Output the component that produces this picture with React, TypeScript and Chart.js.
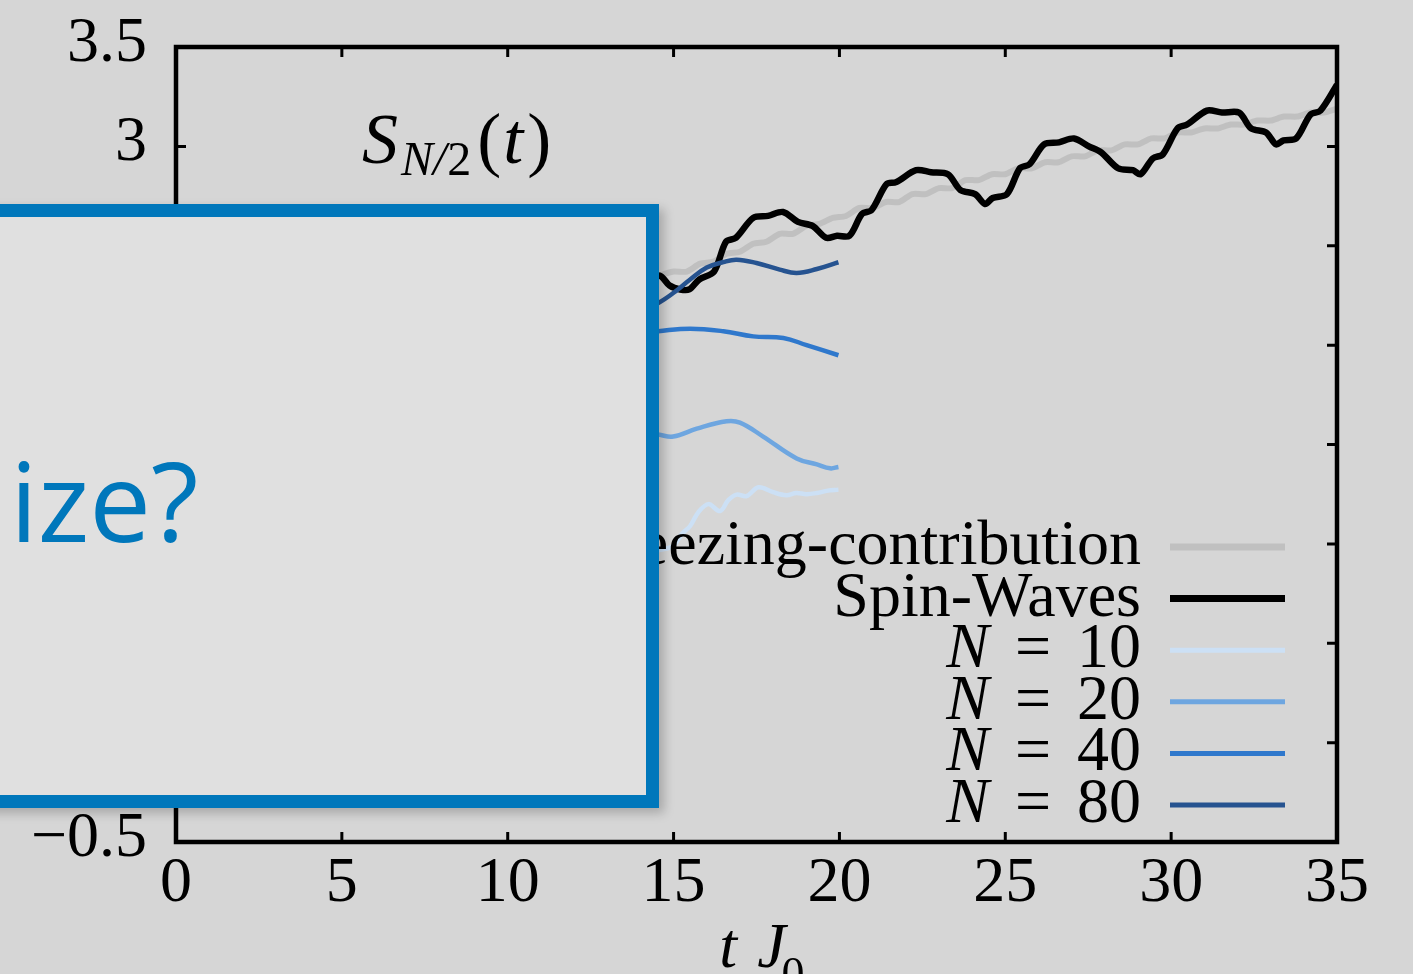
import React, { useEffect, useRef } from "react";
import { Chart, registerables } from "chart.js";

Chart.register(...registerables);

// ---------- data ----------
const squeezeT = [0, 1, 2, 3, 4, 5, 6, 7, 8, 9, 10, 11, 12, 13, 14, 14.6, 15.0, 15.4, 15.8, 16.2, 16.6, 17.0, 17.4, 17.8, 18.2, 18.6, 19.0, 19.4, 19.8, 20.2, 20.6, 21.0, 21.4, 21.8, 22.2, 22.6, 23.0, 23.4, 23.8, 24.2, 24.6, 25.0, 25.4, 25.8, 26.2, 26.6, 27.0, 27.4, 27.8, 28.2, 28.6, 29.0, 29.4, 29.8, 30.2, 30.6, 31.0, 31.4, 31.8, 32.2, 32.6, 33.0, 33.4, 33.8, 34.2, 34.6, 35.0];
const squeezeS = [0, 0.5, 0.9, 1.15, 1.32, 1.48, 1.6, 1.72, 1.82, 1.92, 2.01, 2.1, 2.18, 2.25, 2.31, 2.35, 2.37, 2.37, 2.41, 2.42, 2.46, 2.47, 2.51, 2.52, 2.56, 2.56, 2.6, 2.61, 2.64, 2.65, 2.69, 2.69, 2.72, 2.72, 2.76, 2.76, 2.79, 2.79, 2.83, 2.83, 2.86, 2.86, 2.89, 2.89, 2.92, 2.92, 2.95, 2.95, 2.98, 2.98, 3.01, 3.01, 3.04, 3.04, 3.07, 3.07, 3.09, 3.09, 3.11, 3.11, 3.13, 3.13, 3.15, 3.15, 3.17, 3.17, 3.19];

const spinT = [0, 1, 2, 3, 4, 5, 6, 7, 8, 9, 10, 11, 12, 13, 14, 14.58, 14.88, 15.2, 15.47, 15.77, 16.22, 16.58, 16.88, 17.4, 17.85, 18.3, 18.75, 19.19, 19.6, 19.93, 20.3, 20.68, 20.97, 21.42, 21.71, 22.31, 22.76, 23.27, 23.65, 24.09, 24.39, 24.62, 25.05, 25.44, 25.73, 26.17, 26.62, 27.07, 27.52, 27.89, 28.4, 28.85, 29.08, 29.45, 29.75, 30.19, 30.48, 31.08, 31.53, 32.05, 32.41, 32.86, 33.16, 33.39, 33.77, 34.2, 34.5, 35.0];
const spinS = [0, 0.55, 0.95, 1.2, 1.38, 1.52, 1.65, 1.77, 1.88, 1.98, 2.07, 2.15, 2.22, 2.29, 2.34, 2.35, 2.3, 2.28, 2.28, 2.33, 2.37, 2.52, 2.54, 2.64, 2.65, 2.67, 2.62, 2.6, 2.54, 2.55, 2.55, 2.66, 2.68, 2.81, 2.82, 2.88, 2.87, 2.86, 2.78, 2.76, 2.71, 2.74, 2.76, 2.89, 2.91, 3.01, 3.02, 3.04, 3.0, 2.97, 2.89, 2.88, 2.86, 2.94, 2.96, 3.09, 3.11, 3.18, 3.17, 3.17, 3.09, 3.07, 3.01, 3.03, 3.04, 3.16, 3.18, 3.31];

const n10T = [0, 2, 4, 6, 8, 10, 12, 14, 14.6, 14.99, 15.25, 15.5, 15.75, 16.05, 16.4, 16.65, 16.9, 17.2, 17.56, 18.0, 18.4, 18.7, 19.0, 19.32, 19.65, 19.97];
const n10S = [0, 0.7, 0.9, 0.95, 1.0, 0.96, 0.92, 0.95, 0.97, 0.99, 1.05, 1.09, 1.16, 1.2, 1.165, 1.22, 1.248, 1.24, 1.285, 1.26, 1.245, 1.256, 1.25, 1.256, 1.268, 1.273];

const n20T = [0, 2, 4, 6, 8, 10, 12, 14, 14.54, 14.99, 15.7, 16.6, 17.0, 17.7, 18.71, 19.32, 19.72, 19.97];
const n20S = [0, 0.85, 1.2, 1.4, 1.5, 1.55, 1.6, 1.56, 1.55, 1.54, 1.58, 1.617, 1.61, 1.54, 1.43, 1.4, 1.38, 1.387];

const n40T = [0, 2, 4, 6, 8, 10, 12, 14, 14.54, 15.5, 16.5, 17.4, 18.31, 19.01, 19.97];
const n40S = [0, 0.9, 1.3, 1.55, 1.75, 1.9, 2.0, 2.06, 2.07, 2.083, 2.07, 2.044, 2.036, 2.0, 1.949];

const n80T = [0, 2, 4, 6, 8, 10, 12, 14, 14.54, 14.99, 15.5, 16.0, 16.5, 16.9, 17.5, 18.2, 18.71, 19.32, 19.97];
const n80S = [0, 0.9, 1.3, 1.6, 1.8, 1.95, 2.05, 2.17, 2.212, 2.262, 2.33, 2.39, 2.418, 2.43, 2.413, 2.38, 2.363, 2.383, 2.417];

const seriesLabels = ["Squeezing-contribution", "Spin-Waves", "N = 10", "N = 20", "N = 40", "N = 80"];
const seriesColors = ["#c0c0c0", "#000000", "#cce0f5", "#6ea6e0", "#2f78cc", "#265390"];

const xTicks = [0, 5, 10, 15, 20, 25, 30, 35];
const yTicks = [-0.5, 0, 0.5, 1, 1.5, 2, 2.5, 3, 3.5];

const SERIF = '"Liberation Serif", "Times New Roman", serif';

function zip(t: number[], s: number[]) {
  return t.map((x, i) => ({ x, y: s[i] }));
}

function fmtY(v: number) {
  const r = Math.round(v * 10) / 10;
  return r < 0 ? "\u2212" + String(Math.abs(r)) : String(r);
}

const decorPlugin = {
  id: "decor",
  afterDatasetsDraw(chart: any) {
    const ctx = chart.ctx;
    const { right, top } = chart.chartArea;
    ctx.save();
    // legend
    const lineX0 = right - 167;
    const lineX1 = right - 52;
    const textRight = right - 196;
    const row0 = top + 500;
    const rowH = 51.6;
    chart.data.datasets.forEach((ds: any, i: number) => {
      const y = row0 + i * rowH;
      ctx.strokeStyle = ds.borderColor;
      ctx.lineWidth = i < 2 ? 7 : 5;
      ctx.beginPath();
      ctx.moveTo(lineX0, y);
      ctx.lineTo(lineX1, y);
      ctx.stroke();
      ctx.fillStyle = "#000";
      ctx.textBaseline = "alphabetic";
      ctx.textAlign = "left";
      const base = y + 17;
      const label: string = ds.label;
      if (label.startsWith("N = ")) {
        const num = label.slice(4);
        ctx.font = `64px ${SERIF}`;
        const wNum = ctx.measureText(num).width;
        const wEq = ctx.measureText("=").width;
        const xNum = textRight - wNum;
        ctx.fillText(num, xNum, base);
        const xEq = xNum - 26 - wEq;
        ctx.fillText("=", xEq, base);
        ctx.font = `italic 64px ${SERIF}`;
        const wN = ctx.measureText("N").width;
        ctx.fillText("N", xEq - 26 - wN, base);
      } else {
        ctx.font = `64px ${SERIF}`;
        ctx.textAlign = "right";
        ctx.fillText(label, textRight, base);
      }
    });
    ctx.restore();
  },
  afterDraw(chart: any) {
    const ctx = chart.ctx;
    const { left, right, top, bottom } = chart.chartArea;
    const xs = chart.scales.x;
    const ys = chart.scales.y;
    ctx.save();
    ctx.strokeStyle = "#000";
    // inward ticks
    ctx.lineWidth = 3;
    ctx.beginPath();
    xTicks.forEach((v) => {
      if (v <= 0 || v >= 35) return;
      const px = xs.getPixelForValue(v);
      ctx.moveTo(px, bottom);
      ctx.lineTo(px, bottom - 10);
      ctx.moveTo(px, top);
      ctx.lineTo(px, top + 10);
    });
    yTicks.forEach((v) => {
      if (v <= -0.5 || v >= 3.5) return;
      const py = ys.getPixelForValue(v);
      ctx.moveTo(left, py);
      ctx.lineTo(left + 10, py);
      ctx.moveTo(right, py);
      ctx.lineTo(right - 10, py);
    });
    ctx.stroke();
    // frame
    ctx.lineWidth = 4.5;
    ctx.strokeRect(left, top, right - left, bottom - top);

    // title S_{N/2}(t)
    ctx.fillStyle = "#000";
    ctx.textBaseline = "alphabetic";
    ctx.textAlign = "left";
    let x = left + 186;
    const tb = top + 116;
    ctx.font = `italic 72px ${SERIF}`;
    ctx.fillText("S", x, tb);
    x += ctx.measureText("S").width + 3;
    ctx.font = `italic 48px ${SERIF}`;
    ctx.fillText("N/", x, tb + 12);
    x += ctx.measureText("N/").width + 1;
    ctx.font = `48px ${SERIF}`;
    ctx.fillText("2", x, tb + 12);
    x += ctx.measureText("2").width + 6;
    ctx.font = `72px ${SERIF}`;
    ctx.fillText("(", x, tb);
    x += ctx.measureText("(").width + 2;
    ctx.font = `italic 72px ${SERIF}`;
    ctx.fillText("t", x, tb);
    x += ctx.measureText("t").width + 4;
    ctx.font = `72px ${SERIF}`;
    ctx.fillText(")", x, tb);

    // x axis title  t J_0
    const xb = bottom + 125;
    let ax = xs.getPixelForValue(16.38);
    ctx.font = `italic 64px ${SERIF}`;
    ctx.fillText("t", ax, xb);
    ax += ctx.measureText("t").width + 20;
    ctx.fillText("J", ax, xb);
    ax += ctx.measureText("J").width - 4;
    ctx.font = `46px ${SERIF}`;
    ctx.fillText("0", ax, xb + 22);
    ctx.restore();
  },
};

export default function App() {
  const canvasRef = useRef<HTMLCanvasElement | null>(null);

  useEffect(() => {
    document.body.style.margin = "0";
    const canvas = canvasRef.current;
    if (!canvas) return;
    const seriesT = [squeezeT, spinT, n10T, n20T, n40T, n80T];
    const seriesS = [squeezeS, spinS, n10S, n20S, n40S, n80S];
    const widths = [6, 6.5, 4.5, 4.5, 4.5, 4.5];
    const orders = [5, 4, 3, 2, 1, 0];
    const tensions = [0.25, 0.3, 0.35, 0.4, 0.4, 0.4];
    const chart = new Chart(canvas, {
      type: "line",
      data: {
        datasets: seriesLabels.map((label, i) => ({
          label,
          data: zip(seriesT[i], seriesS[i]),
          borderColor: seriesColors[i],
          backgroundColor: seriesColors[i],
          borderWidth: widths[i],
          pointRadius: 0,
          tension: tensions[i],
          fill: false,
          order: orders[i],
          borderJoinStyle: "round",
          borderCapStyle: "butt",
        })),
      },
      options: {
        animation: false,
        responsive: false,
        maintainAspectRatio: false,
        events: [],
        layout: { padding: { top: 47, right: 76, bottom: 0, left: 0 } },
        plugins: {
          legend: { display: false },
          tooltip: { enabled: false },
          title: { display: false },
        },
        scales: {
          x: {
            type: "linear",
            min: 0,
            max: 35,
            afterFit: (s: any) => {
              s.height = 132;
              s.paddingLeft = 0;
              s.paddingRight = 0;
            },
            afterBuildTicks: (s: any) => {
              s.ticks = xTicks.map((v) => ({ value: v }));
            },
            grid: { display: false, drawTicks: false },
            border: { display: false },
            ticks: {
              autoSkip: false,
              maxRotation: 0,
              padding: 4,
              color: "#000",
              font: { family: SERIF, size: 64 },
              callback: (v: any) => String(v),
            },
          },
          y: {
            type: "linear",
            min: -0.5,
            max: 3.5,
            afterFit: (s: any) => {
              s.width = 176;
              s.paddingTop = 0;
              s.paddingBottom = 0;
            },
            afterBuildTicks: (s: any) => {
              s.ticks = yTicks.map((v) => ({ value: v }));
            },
            grid: { display: false, drawTicks: false },
            border: { display: false },
            ticks: {
              autoSkip: false,
              padding: 29,
              labelOffset: -3,
              color: "#000",
              font: { family: SERIF, size: 64 },
              callback: (v: any) => fmtY(Number(v)),
            },
          },
        },
      },
      plugins: [decorPlugin],
    } as any);
    return () => chart.destroy();
  }, []);

  return (
    <div
      style={{
        position: "relative",
        width: 1413,
        height: 974,
        overflow: "hidden",
        background: "#d6d6d6",
      }}
    >
      <canvas
        ref={canvasRef}
        width={1413}
        height={974}
        style={{ position: "absolute", left: 0, top: 0, width: 1413, height: 974 }}
      />
      <div
        style={{
          position: "absolute",
          left: -30,
          top: 204,
          width: 689,
          height: 604,
          boxSizing: "border-box",
          border: "13px solid #0077bb",
          background: "#e0e0e0",
          boxShadow: "5px 5px 10px rgba(0,0,0,0.22)",
        }}
      />
      <div
        style={{
          position: "absolute",
          left: 10,
          top: 444,
          fontFamily: '"Open Sans", sans-serif',
          fontWeight: 400,
          fontSize: 110,
          lineHeight: "110px",
          color: "#0077bb",
          whiteSpace: "nowrap",
        }}
      >
        ize?
      </div>
    </div>
  );
}
